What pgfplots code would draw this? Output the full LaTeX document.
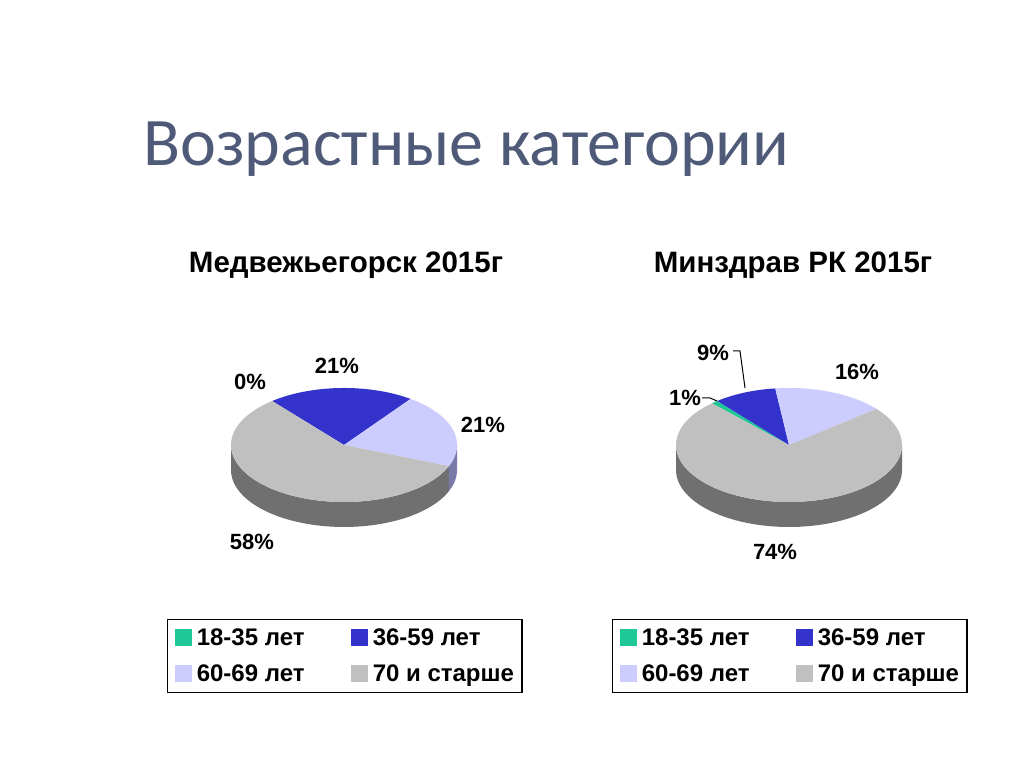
\documentclass[border=0pt]{standalone}
\usepackage{pgfplots}
\pgfplotsset{compat=1.18}
\usepackage{fontspec}
\setmainfont{Liberation Sans}
\newfontfamily\titlefont{Carlito}
\definecolor{cTeal}{RGB}{30,200,150}
\definecolor{cBlue}{RGB}{51,51,204}
\definecolor{cLav}{RGB}{204,204,255}
\definecolor{cGray}{RGB}{192,192,192}
\definecolor{sGray}{RGB}{112,112,112}
\definecolor{sLav}{RGB}{122,122,168}
\definecolor{titlecol}{RGB}{78,90,120}

% ---- data (percent) ----
% Медвежьегорск 2015г: 18-35, 36-59, 60-69, 70+
\def\LA{0}\def\LB{21}\def\LC{21}\def\LD{58}
% Минздрав РК 2015г
\def\RA{1}\def\RB{9}\def\RC{16}\def\RD{74}
\def\Lstart{129.5}
\def\Rstart{133}
\pgfmathsetmacro\La{\Lstart-3.6*\LA}
\pgfmathsetmacro\Lb{\La-3.6*\LB}
\pgfmathsetmacro\Lc{\Lb-3.6*\LC}
\pgfmathsetmacro\Ld{\Lc-3.6*\LD}
\pgfmathsetmacro\Ra{\Rstart-3.6*\RA}
\pgfmathsetmacro\Rb{\Ra-3.6*\RB}
\pgfmathsetmacro\Rc{\Rb-3.6*\RC}
\pgfmathsetmacro\Rd{\Rc-3.6*\RD}

\pgfplotsset{pieaxis/.style={width=1024pt,height=767pt,scale only axis,
  xmin=0,xmax=1024,ymin=0,ymax=767,axis lines=none,clip=false,
  legend columns=2, legend cell align=left,
  legend image code/.code={\fill[##1] (0pt,-7.5pt) rectangle (16pt,8.5pt);},
  legend style={draw=black, line width=1.2pt, anchor=north west,
    font=\bfseries\fontsize{24}{28}\selectfont,
    inner xsep=7pt, inner ysep=8pt, row sep=16pt,
    nodes={inner sep=1pt, anchor=west},
    /tikz/every odd column/.append style={column sep=4pt},
    /tikz/every even column/.append style={column sep=45pt}}}}

% slice top face: color, cx, from, to
\newcommand{\slicetop}[4]{%
  \addplot[fill=#1, draw=none, domain=#4:#3, samples=80, variable=\t, forget plot]
    ({#2+113*cos(t)},{322+57*sin(t)}) -- (axis cs:#2,322) -- cycle;}
% side: color, cx, from, to (from<to, both in [-180,0])
\newcommand{\sideband}[4]{%
  \addplot[fill=#1, draw=none, domain=#3:#4, samples=80, variable=\t, forget plot]
    ({#2+113*cos(t)},{297+57*sin(t)}) -- ++(0pt,25pt)
    arc[start angle=#4, end angle=#3, x radius=113pt, y radius=57pt] -- cycle;}

\begin{document}
\begin{tikzpicture}
\useasboundingbox (0,0) rectangle (1024pt,767pt);
\begin{axis}[pieaxis, at={(0,0)}, anchor=south west, legend style={at={(0.16309,0.19296)}}]
  \addlegendimage{cTeal}\addlegendentry{18-35 лет}
  \addlegendimage{cBlue}\addlegendentry{36-59 лет}
  \addlegendimage{cLav}\addlegendentry{60-69 лет}
  \addlegendimage{cGray}\addlegendentry{70 и старше}
  % sides
  \sideband{sGray}{344}{-180}{\Lc}
  \sideband{sLav}{344}{\Lc}{0}
  % top faces
  \slicetop{cBlue}{344}{\La}{\Lb}
  \slicetop{cLav}{344}{\Lb}{\Lc}
  \slicetop{cGray}{344}{\Lc}{\Ld}
  % labels
  \begin{scope}[every node/.style={font=\bfseries\fontsize{22}{26}\selectfont}]
  \node at (axis cs:250,385) {0\%};
  \node at (axis cs:337,401) {21\%};
  \node at (axis cs:483,342) {21\%};
  \node at (axis cs:252,225) {58\%};
  \end{scope}
  \node[anchor=base west, inner sep=0, text=titlecol,
        font=\titlefont\fontsize{68}{78}\selectfont] at (axis cs:143,601) {Возрастные категории};
  \node[anchor=base, font=\bfseries\fontsize{29.5}{34}\selectfont] at (axis cs:346,494) {Медвежьегорск 2015г};
\end{axis}
\begin{axis}[pieaxis, at={(0,0)}, anchor=south west, legend style={at={(0.59766,0.19296)}}]
  \addlegendimage{cTeal}\addlegendentry{18-35 лет}
  \addlegendimage{cBlue}\addlegendentry{36-59 лет}
  \addlegendimage{cLav}\addlegendentry{60-69 лет}
  \addlegendimage{cGray}\addlegendentry{70 и старше}
  \sideband{sGray}{789}{-180}{0}
  \slicetop{cTeal}{789}{\Rstart}{\Ra}
  \slicetop{cBlue}{789}{\Ra}{\Rb}
  \slicetop{cLav}{789}{\Rb}{\Rc}
  \slicetop{cGray}{789}{\Rc}{\Rd}
  \addplot[black, line width=1pt, forget plot] coordinates {(733,416) (740,416) (745,379)};
  \addplot[black, line width=1pt, forget plot] coordinates {(702,369) (710,369) (717,366)};
  \begin{scope}[every node/.style={font=\bfseries\fontsize{22}{26}\selectfont}]
  \node at (axis cs:713,414) {9\%};
  \node at (axis cs:857,395) {16\%};
  \node at (axis cs:685,369) {1\%};
  \node at (axis cs:775,215) {74\%};
  \end{scope}
  \node[anchor=base, font=\bfseries\fontsize{29.5}{34}\selectfont] at (axis cs:793,494) {Минздрав РК 2015г};
\end{axis}
\end{tikzpicture}
\end{document}
